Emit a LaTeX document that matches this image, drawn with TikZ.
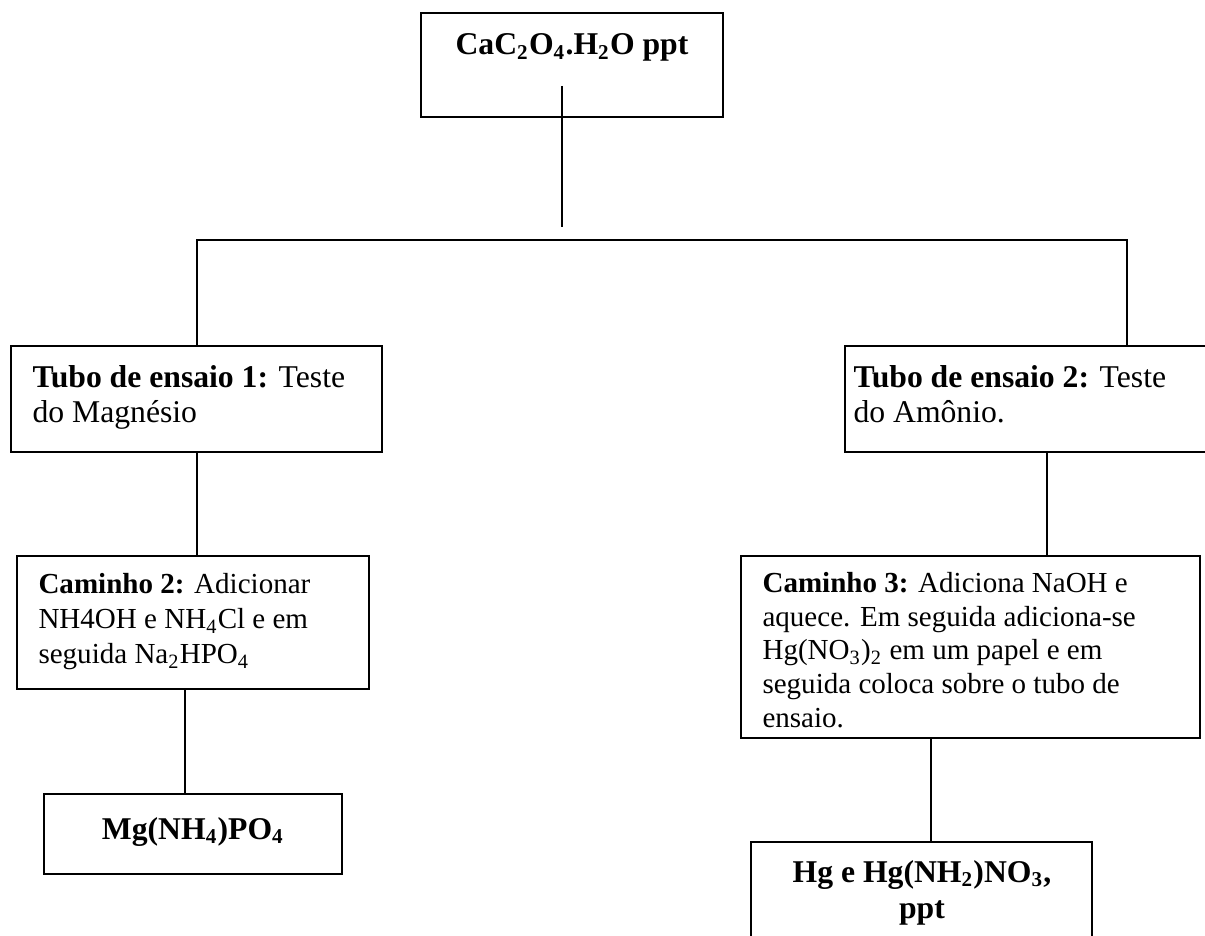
\documentclass[tikz,border=0pt]{standalone}
\usepackage{fontspec}
\setmainfont{Liberation Serif}
\usetikzlibrary{fit}
\begin{document}
\begin{tikzpicture}[x=0.3788pt,y=-0.3788pt,
  box/.style={draw, line width=0.8pt, inner sep=0pt},
  link/.style={line width=0.8pt},
  big/.style={font=\fontsize{12}{13.6}\selectfont, inner sep=0pt, align=left},
  small/.style={font=\fontsize{11}{12.7}\selectfont, inner sep=0pt, align=left}]
\clip (0,0) rectangle (1205,936);
\fill[white] (0,0) rectangle (1205,936);
% boxes
\node[box, fit={(421,13) (723,117)}] (top) {};
\node[box, fit={(11,346) (382,452)}] (t1) {};
\node[box, fit={(845,346) (1225,452)}] (t2) {};
\node[box, fit={(17,556) (369,689)}] (c2) {};
\node[box, fit={(741,556) (1200,738)}] (c3) {};
\node[box, fit={(44,794) (342,874)}] (mg) {};
\node[box, fit={(751,842) (1092,965)}] (hg) {};
% texts (base anchor = baseline of the last line)
\node[big, anchor=base] (toptxt) at (572,55) {\textbf{CaC\textsubscript{2}O\textsubscript{4}.H\textsubscript{2}O ppt}};
\node[big, anchor=base west] (t1txt) at (32,423) {\textbf{Tubo de ensaio 1:} Teste\\do Magnésio};
\node[big, anchor=base west] (t2txt) at (853,423) {\textbf{Tubo de ensaio 2:} Teste\\do Amônio.};
\node[small, font=\fontsize{11}{13.3}\selectfont, anchor=base west] (c2txt) at (38,664) {\textbf{Caminho 2:} Adicionar\\NH4OH e NH\textsubscript{4}Cl e em\\seguida Na\textsubscript{2}HPO\textsubscript{4}};
\node[small, anchor=base west] (c3txt) at (762,727) {\textbf{Caminho 3:} Adiciona NaOH e\\aquece. Em seguida adiciona-se\\Hg(NO\textsubscript{3})\textsubscript{2} em um papel e em\\seguida coloca sobre o tubo de\\ensaio.};
\node[big, anchor=base] (mgtxt) at (193,839) {\textbf{Mg(NH\textsubscript{4})PO\textsubscript{4}}};
\node[big, align=center, anchor=base] (hgtxt) at (922,918) {\textbf{Hg e Hg(NH\textsubscript{2})NO\textsubscript{3},}\\\textbf{ppt}};
% connectors
\coordinate (ts) at (562,86);
\coordinate (te) at (562,227);
\draw[link] (ts) -- (te);
\coordinate (barL) at (197,240);
\coordinate (barR) at (1127,240);
\draw[link] (t1.north -| barL) -- (barL) -- (barR) -- (t2.north -| barR);
\coordinate (x1) at (197,0);
\coordinate (x2) at (185,0);
\coordinate (x3) at (1047,0);
\coordinate (x4) at (931,0);
\draw[link] (t1.south -| x1) -- (c2.north -| x1);
\draw[link] (c2.south -| x2) -- (mg.north -| x2);
\draw[link] (t2.south -| x3) -- (c3.north -| x3);
\draw[link] (c3.south -| x4) -- (hg.north -| x4);
\end{tikzpicture}
\end{document}
